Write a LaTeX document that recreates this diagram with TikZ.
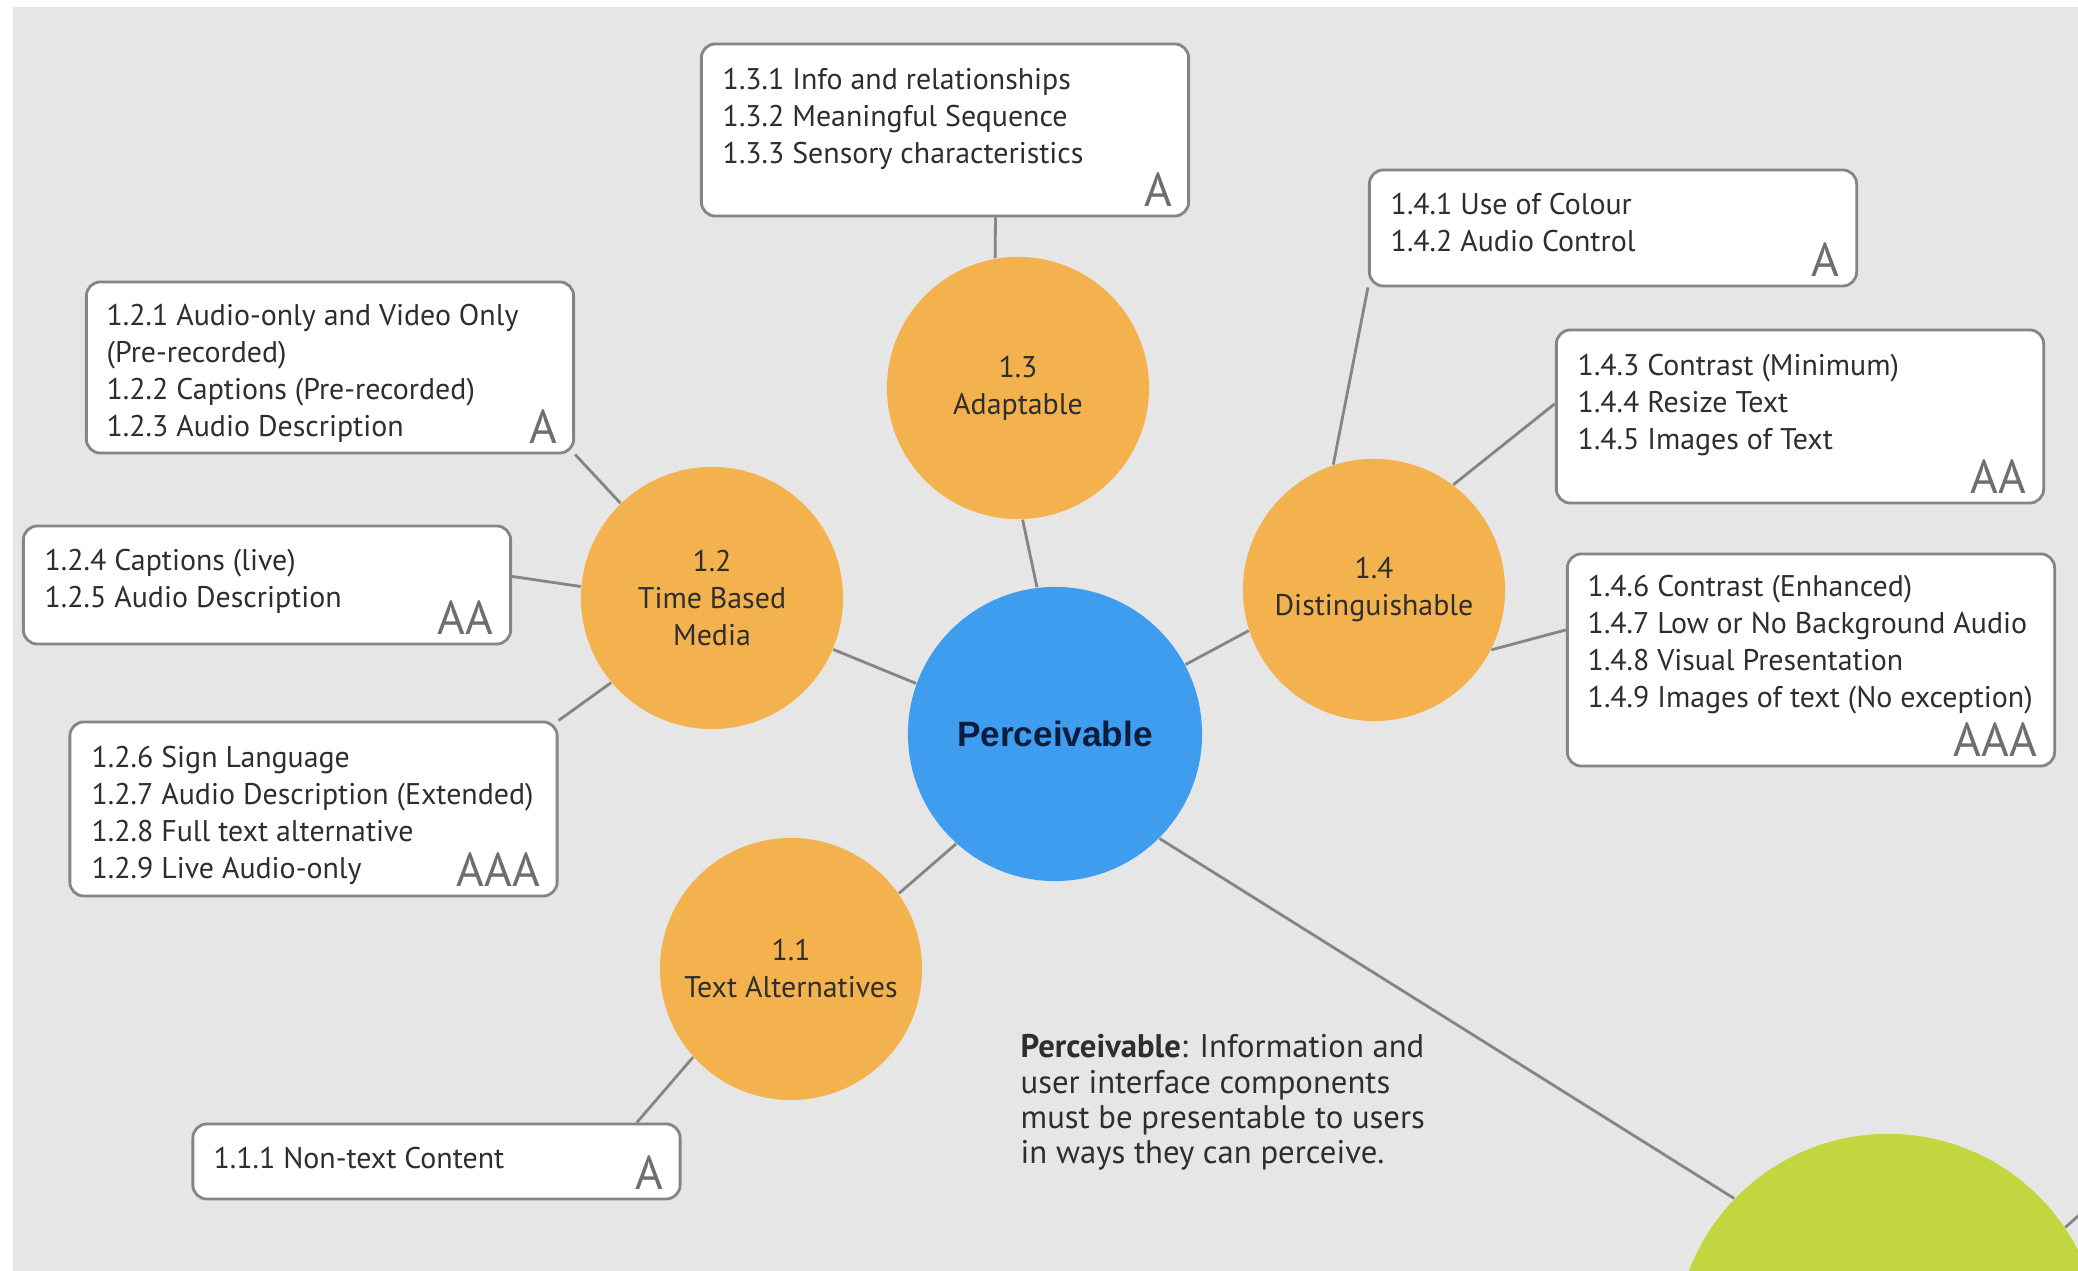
\documentclass[tikz,border=0pt]{standalone}
\usepackage{fontspec}
\setmainfont{PT Sans}
\newfontfamily\headfont{Liberation Sans}
\usetikzlibrary{shapes.geometric}
\pgfdeclarelayer{bglayer}
\pgfdeclarelayer{edgelayer}
\pgfdeclarelayer{nodelayer}
\pgfsetlayers{bglayer,edgelayer,nodelayer,main}
\definecolor{paper}{HTML}{E6E6E6}
\definecolor{guideorange}{HTML}{F4B24F}
\definecolor{principleblue}{HTML}{3F9DEF}
\definecolor{nextgreen}{HTML}{C2D640}
\definecolor{rim}{HTML}{858585}
\definecolor{ink}{HTML}{2E2E2E}
\definecolor{navy}{HTML}{0B1C3D}
\definecolor{levelgrey}{HTML}{6E6E6E}
\tikzstyle{none}=[inner sep=0pt]
\tikzstyle{principle}=[circle,fill=principleblue,minimum size=2.94cm,inner sep=0pt,text=navy,font=\headfont\bfseries\fontsize{10}{12}\selectfont]
\tikzstyle{guide}=[circle,fill=guideorange,minimum size=2.62cm,inner sep=0pt,align=center,text=ink,font=\fontsize{8.5}{10.5}\selectfont]
\tikzstyle{other}=[circle,fill=nextgreen,minimum size=4.26cm,inner sep=0pt]
\tikzstyle{criteria}=[rectangle,rounded corners=0.14cm,fill=white,draw=rim,line width=0.8pt,minimum width=4.87cm,inner sep=0pt]
\tikzstyle{items}=[anchor=north west,inner sep=0pt,align=left,text=ink,font=\fontsize{8.5}{10.5}\selectfont]
\tikzstyle{level}=[anchor=south east,inner sep=0pt,text=levelgrey,font=\fontsize{13.5}{14}\selectfont]
\tikzstyle{link}=[draw=rim,line width=0.8pt]

\begin{document}
\begin{tikzpicture}[x=0.01cm,y=-0.01cm]
	\useasboundingbox (0,0) rectangle (2078,1271);
	\begin{pgfonlayer}{bglayer}
		\fill [white] (0,0) rectangle (2078,1271);
		\fill [paper] (13,7) rectangle (2078,1271);
	\end{pgfonlayer}
	\begin{pgfonlayer}{nodelayer}
		\node [style=principle] (0) at (1055, 734) {Perceivable};
		\node [style=guide] (1) at (791, 969) {1.1\\Text Alternatives};
		\node [style=guide] (2) at (712, 598) {1.2\\Time Based\\Media};
		\node [style=guide] (3) at (1018, 388) {1.3\\Adaptable};
		\node [style=guide] (4) at (1374, 590) {1.4\\Distinguishable};
		\node [style=other] (5) at (1888, 1347) {};
		\node [style=criteria, minimum height=0.75cm] (6) at (436.5, 1161.5) {};
		\node [style=criteria, minimum height=1.71cm] (7) at (330, 367.5) {};
		\node [style=criteria, minimum height=1.18cm] (8) at (267, 585) {};
		\node [style=criteria, minimum height=1.74cm] (9) at (313.5, 809) {};
		\node [style=criteria, minimum height=1.72cm] (10) at (945, 130) {};
		\node [style=criteria, minimum height=1.16cm] (11) at (1613, 228) {};
		\node [style=criteria, minimum height=1.73cm] (12) at (1800, 416.5) {};
		\node [style=criteria, minimum height=2.12cm] (13) at (1811, 660) {};
		\node [style=items] (14) at (213, 1147) {1.1.1 Non-text Content};
		\node [style=items] (15) at (106, 304) {1.2.1 Audio-only and Video Only\\(Pre-recorded)\\1.2.2 Captions (Pre-recorded)\\1.2.3 Audio Description};
		\node [style=items] (16) at (44, 549) {1.2.4 Captions (live)\\1.2.5 Audio Description};
		\node [style=items] (17) at (91, 746) {1.2.6 Sign Language\\1.2.7 Audio Description (Extended)\\1.2.8 Full text alternative\\1.2.9 Live Audio-only};
		\node [style=items] (18) at (722, 68) {1.3.1 Info and relationships\\1.3.2 Meaningful Sequence\\1.3.3 Sensory characteristics};
		\node [style=items] (19) at (1390, 193) {1.4.1 Use of Colour\\1.4.2 Audio Control};
		\node [style=items] (20) at (1577, 354) {1.4.3 Contrast (Minimum)\\1.4.4 Resize Text\\1.4.5 Images of Text};
		\node [style=items] (21) at (1587, 575) {1.4.6 Contrast (Enhanced)\\1.4.7 Low or No Background Audio\\1.4.8 Visual Presentation\\1.4.9 Images of text (No exception)};
		\node [style=level] (22) at (664, 1190) {A};
		\node [style=level] (23) at (558, 444) {A};
		\node [style=level] (24) at (494, 635) {AA};
		\node [style=level] (25) at (541, 887) {AAA};
		\node [style=level] (26) at (1173, 207) {A};
		\node [style=level] (27) at (1840, 277) {A};
		\node [style=level] (28) at (2027, 494) {AA};
		\node [style=level] (29) at (2038, 757) {AAA};
		\node [style=items, font=\fontsize{9.3}{10}\selectfont] (30) at (1020, 1034) {\textbf{Perceivable}: Information and\\user interface components\\must be presentable to users\\in ways they can perceive.};
		\node [style=none] (31) at (2200, 1107) {};
	\end{pgfonlayer}
	\begin{pgfonlayer}{edgelayer}
		\draw [style=link] (10.-60) to (3.100);
		\draw [style=link] (3.-88) to (0.97);
		\draw [style=link] (7.south east) to (2.134);
		\draw [style=link] (8.2) to (2.175);
		\draw [style=link] (9.north east) to (2.220);
		\draw [style=link] (2.-23) to (0.160);
		\draw [style=link] (1.35) to (0.228);
		\draw [style=link] (6.11) to (1.222);
		\draw [style=link] (4.198) to (0.28);
		\draw [style=link] (11.south west) to (4.108);
		\draw [style=link] (12.177) to (4.53);
		\draw [style=link] (13.173) to (4.-27);
		\draw [style=link] (0.-45) to (5.136);
		\draw [style=link] (5.34) to (31.center);
	\end{pgfonlayer}
\end{tikzpicture}
\end{document}
